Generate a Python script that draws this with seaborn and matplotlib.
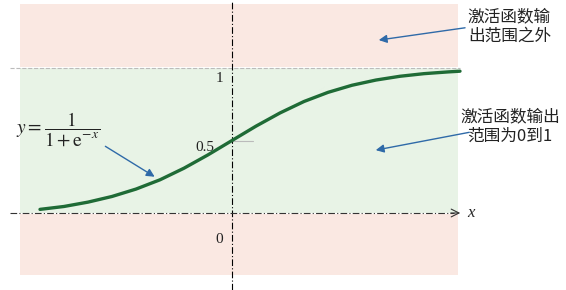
import matplotlib
matplotlib.use('Agg')
import matplotlib.pyplot as plt
import seaborn as sns

# values (sigmoid curve)
x_vals = [-3.2, -2.8, -2.4, -2.0, -1.6, -1.2, -0.8, -0.4, 0.0,
          0.4, 0.8, 1.2, 1.6, 2.0, 2.4, 2.8, 3.2, 3.6, 3.8]
y_vals = [0.025, 0.045, 0.075, 0.114, 0.165, 0.229, 0.309, 0.401, 0.500,
          0.599, 0.690, 0.769, 0.832, 0.881, 0.917, 0.943, 0.961, 0.973, 0.978]
tick_vals = [0, 0.5, 1]
tick_labels = ['0', '0.5', '1']

sns.set_style('white')
plt.rcParams['font.family'] = ['Noto Sans CJK SC', 'DejaVu Sans']
plt.rcParams['mathtext.fontset'] = 'stix'

fig = plt.figure(figsize=(5.66, 2.9), dpi=100)
ax = fig.add_axes([0, 0, 1, 1])
# pixel mapping: x_px = 232 + 60*x, y_px = 213 - 145*y
ax.set_xlim(-232 / 60, (566 - 232) / 60)
ax.set_ylim((213 - 290) / 145, 213 / 145)
ax.axis('off')

pink = '#fae8e2'
green = '#e8f3e6'
x0, x1 = -3.53, 3.77
ax.fill_between([x0, x1], 1.005, 1.44, color=pink, lw=0, zorder=0)
ax.fill_between([x0, x1], -0.43, -0.01, color=pink, lw=0, zorder=0)
ax.fill_between([x0, x1], 0, 1, color=green, lw=0, zorder=0)

# axes lines
ax.axvline(0, color='black', lw=0.8, ls=(0, (6, 2, 1, 2)), zorder=2)
ax.plot([-3.7, 3.7], [0, 0], color='#333333', lw=0.8, ls=(0, (6, 2, 1, 2)), zorder=2)
ax.plot([-3.7, 3.8], [1, 1], color='#bbbbbb', lw=0.8, ls='--', zorder=1)
ax.plot([0, 0.35], [0.5, 0.5], color='#bbbbbb', lw=0.8, zorder=1)
ax.annotate('', xy=(3.85, 0), xytext=(3.6, 0),
            arrowprops=dict(arrowstyle='->', color='#333333', lw=0.8,
                            mutation_scale=14))
ax.text(3.92, 0, 'x', fontsize=12, family='Liberation Serif', style='italic',
        va='center', ha='left')

offsets = {0: (-0.15, -0.18), 0.5: (-0.3, -0.05), 1: (-0.15, -0.07)}
for v, lab in zip(tick_vals, tick_labels):
    dx, dy = offsets[v]
    ax.text(dx, v + dy, lab, fontsize=11,
            family='Liberation Serif', ha='right', va='center', color='#222222')

sns.lineplot(x=x_vals, y=y_vals, ax=ax, color='#1f6b36', lw=2.4, zorder=3)

ax.text(-3.6, 0.575, r'$y=\dfrac{1}{1+\mathrm{e}^{-x}}$', fontsize=14,
        ha='left', va='center', color='#222222')

arrow_kw = dict(arrowstyle='-|>', color='#2f6aa8', lw=1.0, mutation_scale=12)
ax.annotate('', xy=(-1.25, 0.24), xytext=(-2.15, 0.47), arrowprops=arrow_kw)
ax.annotate('', xy=(2.4, 1.19), xytext=(3.93, 1.28), arrowprops=arrow_kw)
ax.annotate('', xy=(2.35, 0.43), xytext=(4.0, 0.56), arrowprops=arrow_kw)

ax.text(3.93, 1.41, '激活函数输\n出范围之外', fontsize=12, ha='left', va='top',
        linespacing=1.15, color='#222222')
ax.text(4.63, 0.72, '激活函数输出\n范围为0到1', fontsize=12, ha='center', va='top',
        linespacing=1.15, color='#222222')

plt.savefig('out.png', dpi=100)
